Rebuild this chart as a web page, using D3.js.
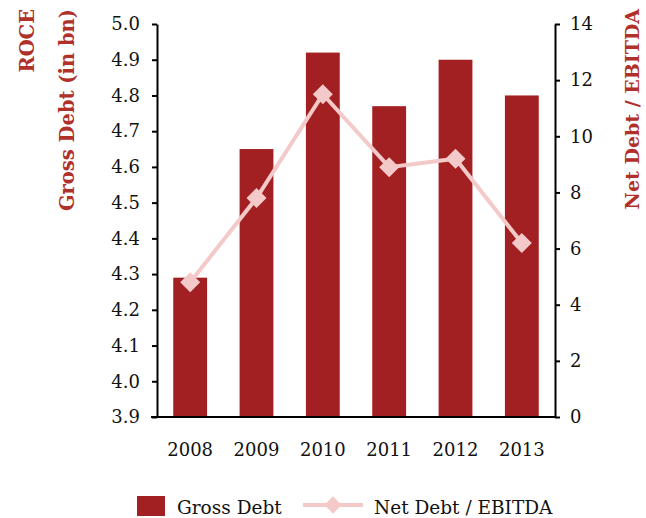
<!DOCTYPE html>
<html>
<head>
<meta charset="utf-8">
<script src="https://cdn.jsdelivr.net/npm/d3@7"></script>
<style>
  html, body { margin: 0; padding: 0; background: #fff; }
  svg { display: block; }
  text { font-family: "DejaVu Serif", "Liberation Serif", serif; }
</style>
</head>
<body>
<svg id="chart" width="646" height="518"></svg>
<script>
// Data
const years = ["2008", "2009", "2010", "2011", "2012", "2013"];
const grossDebt = [4.29, 4.65, 4.92, 4.77, 4.90, 4.80];
const netDebtEbitda = [4.8, 7.8, 11.5, 8.9, 9.2, 6.2];
const leftTicks = [3.9, 4.0, 4.1, 4.2, 4.3, 4.4, 4.5, 4.6, 4.7, 4.8, 4.9, 5.0];
const rightTicks = [0, 2, 4, 6, 8, 10, 12, 14];

const barColor = "#a32022";
const lineColor = "#f3cac9";
const titleColor = "#b0302a";

const svg = d3.select("#chart");
const margin = { left: 157, right: 91, top: 24, bottom: 101 };
const W = 646, H = 518;
const x0 = margin.left, x1 = W - margin.right;
const y0 = H - margin.bottom, y1 = margin.top;

const x = d3.scaleBand().domain(years).range([x0, x1]).paddingInner(0.49).paddingOuter(0.245);
const yL = d3.scaleLinear().domain([3.9, 5.0]).range([y0, y1]);
const yR = d3.scaleLinear().domain([0, 14]).range([y0, y1]);

// Bars
svg.append("g").selectAll("rect").data(years).join("rect")
  .attr("x", d => x(d))
  .attr("width", x.bandwidth())
  .attr("y", (d, i) => yL(grossDebt[i]))
  .attr("height", (d, i) => y0 - yL(grossDebt[i]))
  .attr("fill", barColor);

// Axes
const axisStyle = size => g => {
  g.selectAll("path, line").attr("stroke", "#000").attr("stroke-width", 2);
  g.selectAll("text").attr("fill", "#111").attr("font-size", size);
};

svg.append("g").attr("transform", `translate(${x0},0)`)
  .call(d3.axisLeft(yL).tickValues(leftTicks).tickFormat(d3.format(".1f")).tickSize(5).tickSizeOuter(0).tickPadding(12))
  .call(axisStyle(18));

svg.append("g").attr("transform", `translate(${x1},0)`)
  .call(d3.axisRight(yR).tickValues(rightTicks).tickSize(5).tickSizeOuter(0).tickPadding(10))
  .call(axisStyle(18));

const xAxis = svg.append("g").attr("transform", `translate(0,${y0})`)
  .call(d3.axisBottom(x).tickSize(0).tickPadding(26))
  .call(axisStyle(18));
xAxis.select(".domain").attr("d", `M${x0 - 6},0H${x1}`);

// Line with diamond markers
const lineGen = d3.line().x((d, i) => x(years[i]) + x.bandwidth() / 2).y(d => yR(d));
svg.append("path").datum(netDebtEbitda)
  .attr("d", lineGen)
  .attr("fill", "none")
  .attr("stroke", lineColor)
  .attr("stroke-width", 4);

const diamond = d3.symbol().type(d3.symbolSquare).size(200);
svg.append("g").selectAll("path").data(netDebtEbitda).join("path")
  .attr("d", diamond)
  .attr("transform", (d, i) => `translate(${x(years[i]) + x.bandwidth() / 2},${yR(d)}) rotate(45)`)
  .attr("fill", lineColor);

// Axis titles (baseline x position, rotated to read bottom-to-top)
const title = (bx, label, size) => svg.append("text")
  .attr("transform", `translate(${bx},9) rotate(-90)`)
  .attr("text-anchor", "end")
  .attr("font-size", size)
  .attr("font-weight", "bold")
  .attr("fill", titleColor)
  .text(label);
title(34, "ROCE", 19.5);
title(74, "Gross Debt (in bn)", 19.5);
title(639, "Net Debt / EBITDA", 19);

// Legend
const legend = svg.append("g");
legend.append("rect").attr("x", 137).attr("y", 496).attr("width", 28).attr("height", 20).attr("fill", barColor);
legend.append("text").attr("x", 177).attr("y", 514).attr("font-size", 18.5).attr("fill", "#111").text("Gross Debt");
legend.append("line").attr("x1", 303).attr("x2", 363).attr("y1", 505).attr("y2", 505)
  .attr("stroke", lineColor).attr("stroke-width", 4);
legend.append("path").attr("d", d3.symbol().type(d3.symbolSquare).size(150))
  .attr("transform", "translate(333,505) rotate(45)").attr("fill", lineColor);
legend.append("text").attr("x", 374).attr("y", 514).attr("font-size", 18.5).attr("fill", "#111").text("Net Debt / EBITDA");
</script>
</body>
</html>
